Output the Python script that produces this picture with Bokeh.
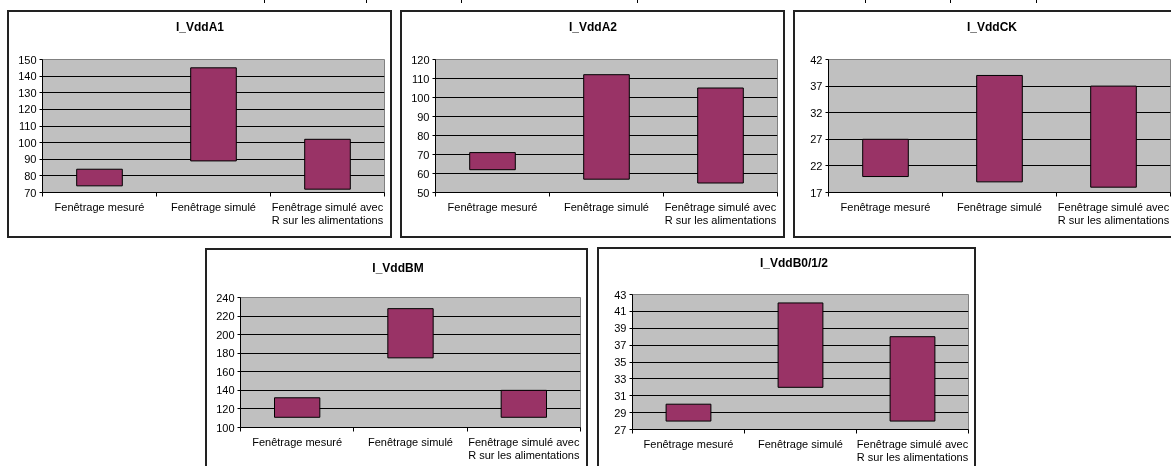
from bokeh.plotting import figure
from bokeh.layouts import column
from bokeh.models import Range1d, FixedTicker, Div, Title
from bokeh.embed import file_html
from bokeh.resources import INLINE

# ---------------- data ----------------
categories = ["Fenêtrage mesuré", "Fenêtrage simulé",
              "Fenêtrage simulé avec\nR sur les alimentations"]

titles = ["I_VddA1", "I_VddA2", "I_VddCK", "I_VddBM", "I_VddB0/1/2"]

vdda1_low = [74, 89, 72]
vdda1_high = [84, 145, 102]
vdda2_low = [62, 57, 55]
vdda2_high = [71, 112, 105]
vddck_low = [20, 19, 18]
vddck_high = [27, 39, 37]
vddbm_low = [111, 175, 111]
vddbm_high = [132, 228, 140]
vddb012_low = [28, 32, 28]
vddb012_high = [30, 42, 38]

vdda1_ticks = [70, 80, 90, 100, 110, 120, 130, 140, 150]
vdda2_ticks = [50, 60, 70, 80, 90, 100, 110, 120]
vddck_ticks = [17, 22, 27, 32, 37, 42]
vddbm_ticks = [100, 120, 140, 160, 180, 200, 220, 240]
vddb012_ticks = [27, 29, 31, 33, 35, 37, 39, 41, 43]

lows = [vdda1_low, vdda2_low, vddck_low, vddbm_low, vddb012_low]
highs = [vdda1_high, vdda2_high, vddck_high, vddbm_high, vddb012_high]
ticks = [vdda1_ticks, vdda2_ticks, vddck_ticks, vddbm_ticks, vddb012_ticks]

# ---------------- layout (page pixels) ----------------
# box = chart border, frame = plot area
boxes = [(7, 10, 392, 238), (400, 10, 785, 238), (793, 10, 1178, 238),
         (205, 248, 588, 472), (597, 247, 976, 474)]
frames = [(42, 59, 384, 192), (435, 59, 777, 192), (822, 59, 1170, 192),
          (239, 297, 580, 427), (625, 294, 972, 429)]
title_y = [27, 27, 27, 268, 263]

FONT = "Liberation Sans"
TITLE_PX = 12
# Arial-bold advance widths (per 1000 em) used to centre the title on the box
BOLD_W = {"I": 278, "_": 556, "V": 667, "d": 611, "A": 722, "1": 556, "2": 556,
          "C": 722, "K": 722, "B": 722, "M": 833, "0": 556, "/": 278}


def text_w(s):
    return sum(BOLD_W.get(c, 600) for c in s) * TITLE_PX / 1000.0


def make_chart(i):
    x0, y0, x1, y1 = boxes[i]
    fx0, fy0, fx1, fy1 = frames[i]
    n = len(categories)
    xc = [k + 0.5 for k in range(n)]
    tk = ticks[i]
    p = figure(width=x1 - x0, height=y1 - y0,
               x_range=Range1d(0, n), y_range=Range1d(tk[0], tk[-1]),
               output_backend="svg", toolbar_location=None,
               min_border_left=fx0 - x0, min_border_right=x1 - fx1,
               min_border_top=fy0 - y0, min_border_bottom=y1 - fy1,
               background_fill_color="#C0C0C0", border_fill_color="white",
               outline_line_color="#808080",
               styles={"position": "fixed", "left": f"{x0}px", "top": f"{y0}px"})
    p.title_location = None
    p.vbar(x=xc, bottom=lows[i], top=highs[i], width=0.4,
           fill_color="#993366", line_color="black", line_width=1)

    # spacer between frame and title, then the title (centred on the chart box)
    gap = int((fy0 - title_y[i]) - 10)
    p.add_layout(Title(text=" ", text_font_size="1px", standoff=gap), "above")
    p.add_layout(Title(text=titles[i], align="left", vertical_align="middle",
                       offset=(x0 + x1) / 2 - fx0 - text_w(titles[i]) / 2,
                       standoff=0, text_font=FONT, text_font_style="bold",
                       text_font_size=f"{TITLE_PX}px", text_color="black"), "above")

    # x axis
    xa = p.xaxis[0]
    xa.ticker = FixedTicker(ticks=xc, minor_ticks=list(range(n + 1)))
    xa.major_label_overrides = {xc[k]: categories[k] for k in range(n)}
    xa.major_tick_line_color = None
    xa.minor_tick_line_color = "black"
    xa.minor_tick_out = 4
    xa.minor_tick_in = 0
    xa.axis_line_color = "black"
    xa.major_label_text_font = FONT
    xa.major_label_text_font_size = "11px"
    xa.major_label_text_color = "black"
    xa.major_label_text_line_height = 1.1
    xa.major_label_standoff = 2

    # y axis
    ya = p.yaxis[0]
    ya.ticker = FixedTicker(ticks=tk, minor_ticks=[])
    ya.major_tick_out = 3
    ya.major_tick_in = 0
    ya.major_tick_line_color = "black"
    ya.minor_tick_line_color = None
    ya.axis_line_color = "black"
    ya.major_label_text_font = FONT
    ya.major_label_text_font_size = "11px"
    ya.major_label_text_color = "black"
    ya.major_label_standoff = 3

    p.xgrid.visible = False
    p.ygrid.ticker = FixedTicker(ticks=tk, minor_ticks=[])
    p.ygrid.grid_line_color = "black"
    p.ygrid.grid_line_width = 1
    return p


charts = [make_chart(i) for i in range(5)]

# chart borders drawn as overlay boxes
frames_div = []
for (x0, y0, x1, y1) in boxes:
    frames_div.append(Div(text="", width=x1 - x0, height=y1 - y0, margin=0,
                          styles={"position": "fixed", "left": f"{x0}px", "top": f"{y0}px",
                                  "border": "2px solid #222", "box-sizing": "border-box",
                                  "pointer-events": "none", "z-index": "10"}))

# bottom edge of a table above the charts
seps = [111, 213, 308, 484, 712, 797, 883]
inner = "".join(
    f'<div style="position:absolute;left:{s}px;top:0;width:1px;height:3px;background:#000"></div>'
    for s in seps)
top_line = Div(text=f'<div style="position:relative;width:884px;height:3px;border-top:1px solid #000">{inner}</div>',
               width=884, height=3, margin=0,
               styles={"position": "fixed", "left": "153px", "top": "-10px", "padding": "0", "z-index": "10"})

layout = column(*charts, *frames_div, top_line)
open("out.html", "w").write(file_html(layout, INLINE))
